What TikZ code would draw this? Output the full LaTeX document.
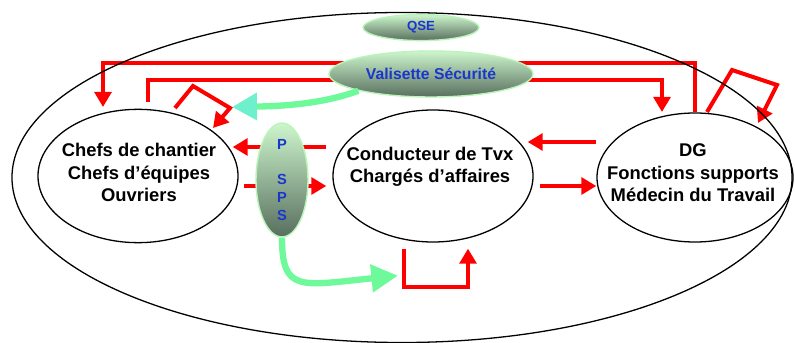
\documentclass[tikz,border=0pt]{standalone}
\usepackage{fontspec}
\setmainfont{Liberation Sans}
\usepackage{xcolor}
\usetikzlibrary{shapes.geometric, arrows.meta, positioning, backgrounds}

\definecolor{lightpill}{RGB}{205,246,205}
\definecolor{darkpill}{RGB}{88,110,94}
\definecolor{pillrim}{RGB}{185,245,185}
\definecolor{pillblue}{RGB}{25,55,205}
\definecolor{mint}{RGB}{110,250,155}
\definecolor{aqua}{RGB}{110,240,205}

\begin{document}
\begin{tikzpicture}[x=0.03cm, y=-0.03cm,
    zone/.style={ellipse, draw, line width=1.1pt, inner sep=0pt},
    role/.style={font=\fontsize{15.7}{19.2}\selectfont\bfseries, align=center},
    pill/.style={ellipse, draw=pillrim, line width=1.2pt, top color=lightpill, bottom color=darkpill, text=pillblue, inner sep=0pt, align=center},
    flow/.style={draw=red, line width=0.12cm, -{Triangle[length=0.45cm,width=0.5cm]}},
    feed/.style={draw=mint, line width=0.19cm, -{Triangle[length=0.8cm,width=0.8cm]}}]

    \useasboundingbox (0,0) rectangle (795,343);

    % Nodes
    \node [zone, minimum width=23.4cm, minimum height=9.9cm] (site) at (402,177.5) {};
    \node [zone, minimum width=6cm, minimum height=4cm] (chefs) at (138,176) {};
    \node [zone, minimum width=6cm, minimum height=3.96cm] (cond) at (433,176) {};
    \node [zone, minimum width=5.88cm, minimum height=3.87cm] (dg) at (695,177.5) {};
    \node [role] (chefs-txt) at (139,172.5) {Chefs de chantier\\Chefs d’équipes\\Ouvriers};
    \node [role] (cond-txt) at (430,167) {Conducteur de Tvx\\Chargés d’affaires};
    \node [role] (dg-txt) at (693,173) {DG\\Fonctions supports\\Médecin du Travail};

    \node [pill, minimum width=6.12cm, minimum height=1.38cm, font=\fontsize{13.4}{16}\selectfont\bfseries] (valisette) at (431,74) {Valisette Sécurité};
    \node [pill, minimum width=3.48cm, minimum height=0.78cm, font=\fontsize{11.3}{13}\selectfont\bfseries, above=0.27cm of valisette, xshift=-0.3cm] (qse) {QSE};
    \node [pill, minimum width=1.56cm, minimum height=3.3cm, font=\fontsize{12.5}{15}\selectfont\bfseries] (psps) at (282,180) {P\\[15pt]S\\P\\S};

    \coordinate (railA) at (400,63);
    \coordinate (railB) at (400,80);

    % Arrows
    \begin{scope}[on background layer]
    \draw [flow] (dg.north) |- (railA) -| ([shift={(-35,-69)}]chefs.center);
    \draw [flow] ([shift={(10,-74)}]chefs.center) |- (railB) -| ([shift={(-33,-65.5)}]dg.center);
    \draw [flow] ([shift={(37,-68)}]chefs.center) -- ++(18,-22) -- ++(37,22) -- ++(-17,20);
    \draw [flow] ([shift={(12,-65.5)}]dg.center) -- ++(25,-42) -- ++(45,15) -- ++(-19,38);
    \draw [flow] ([shift={(-6,-29)}]cond.west) -- ([shift={(-6,-29)}]chefs.east);
    \draw [flow] ([shift={(5,10)}]chefs.east) -- ([shift={(-6,10)}]cond.west);
    \draw [flow] ([shift={(0,-35.5)}]dg.west) -- ([shift={(-6,-34)}]cond.east);
    \draw [flow] ([shift={(6,10)}]cond.east) -- ([shift={(0,8.5)}]dg.west);
    \draw [flow] ([shift={(-29,6)}]cond.south) -- ++(0,38) -- ++(64,0) -- ++(0,-38);
    \end{scope}

    \draw [feed, -{Triangle[length=0.75cm,width=0.78cm,color=aqua]}] (valisette.south west) .. controls +(-33,12) and +(58,-1) .. ([shift={(94,-69)}]chefs.center);
    \draw [feed] (psps.south) .. controls +(0,55) and +(-98,10) .. ([shift={(-35,33)}]cond.south);

\end{tikzpicture}
\end{document}
